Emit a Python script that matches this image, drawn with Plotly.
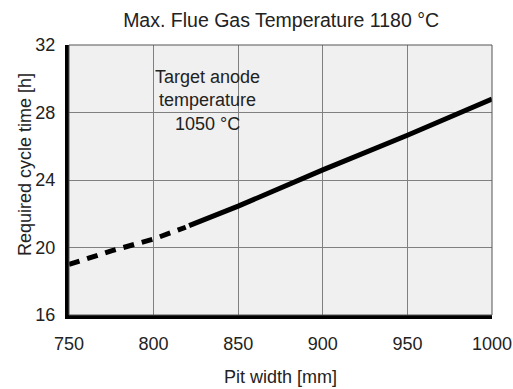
import plotly.graph_objects as go

# Data
dashed_x = [750, 775, 800, 819]
dashed_y = [19.0, 19.8, 20.5, 21.2]
solid_x = [821, 850, 900, 950, 1000]
solid_y = [21.3, 22.45, 24.6, 26.65, 28.8]
x_ticks = [750, 800, 850, 900, 950, 1000]
y_ticks = [16, 20, 24, 28, 32]

font_family = "Liberation Sans, Arial, sans-serif"

W, H = 513, 389
ML, MR, MT, MB = 69, 21, 45, 74
PW, PH = W - ML - MR, H - MT - MB

fig = go.Figure()
fig.add_trace(go.Scatter(x=dashed_x, y=dashed_y, mode="lines",
                         line=dict(color="black", width=5, dash="11px,8px"),
                         showlegend=False))
fig.add_trace(go.Scatter(x=solid_x, y=solid_y, mode="lines",
                         line=dict(color="black", width=5),
                         showlegend=False))

fig.add_annotation(x=832, y=28.74, xref="x", yref="y",
                   text="Target anode<br>temperature<br>1050 °C",
                   showarrow=False, font=dict(size=18, color="#222", family=font_family),
                   align="center")

# y-axis title placed as annotation (slightly above plot centre, as in the reference)
fig.add_annotation(x=(25 - ML) / PW, y=(H - 165 - MB) / PH, xref="paper", yref="paper",
                   text="Required cycle time [h]", textangle=-90, showarrow=False,
                   font=dict(size=18, color="#222", family=font_family),
                   xanchor="center", yanchor="middle")

fig.add_shape(type="rect", xref="paper", yref="paper", x0=0, x1=1, y0=0, y1=1,
              line=dict(color="#555", width=1), layer="above")

fig.update_layout(
    width=W, height=H,
    margin=dict(l=ML, r=MR, t=MT, b=MB, autoexpand=False),
    paper_bgcolor="white",
    plot_bgcolor="#f0f0f0",
    font=dict(family=font_family, size=18, color="#222"),
    title=dict(text="Max. Flue Gas Temperature 1180 °C", x=0.548, xanchor="center",
               y=0.948, yanchor="middle", font=dict(size=19.5, color="#222")),
    xaxis=dict(range=[750, 1000], tickvals=x_ticks, showgrid=True, gridcolor="#808080",
               gridwidth=1, showline=True, linecolor="black", linewidth=4,
               ticks="outside", ticklen=9, tickcolor="rgba(0,0,0,0)",
               zeroline=False, tickfont=dict(size=18), automargin=False,
               title=dict(text="Pit width [mm]", standoff=19, font=dict(size=18))),
    yaxis=dict(range=[16, 32], tickvals=y_ticks, showgrid=True, gridcolor="#808080",
               gridwidth=1, showline=True, linecolor="black", linewidth=4,
               ticks="outside", ticklen=6, tickcolor="rgba(0,0,0,0)",
               zeroline=False, tickfont=dict(size=18), automargin=False),
)

fig.write_html("out.html")
